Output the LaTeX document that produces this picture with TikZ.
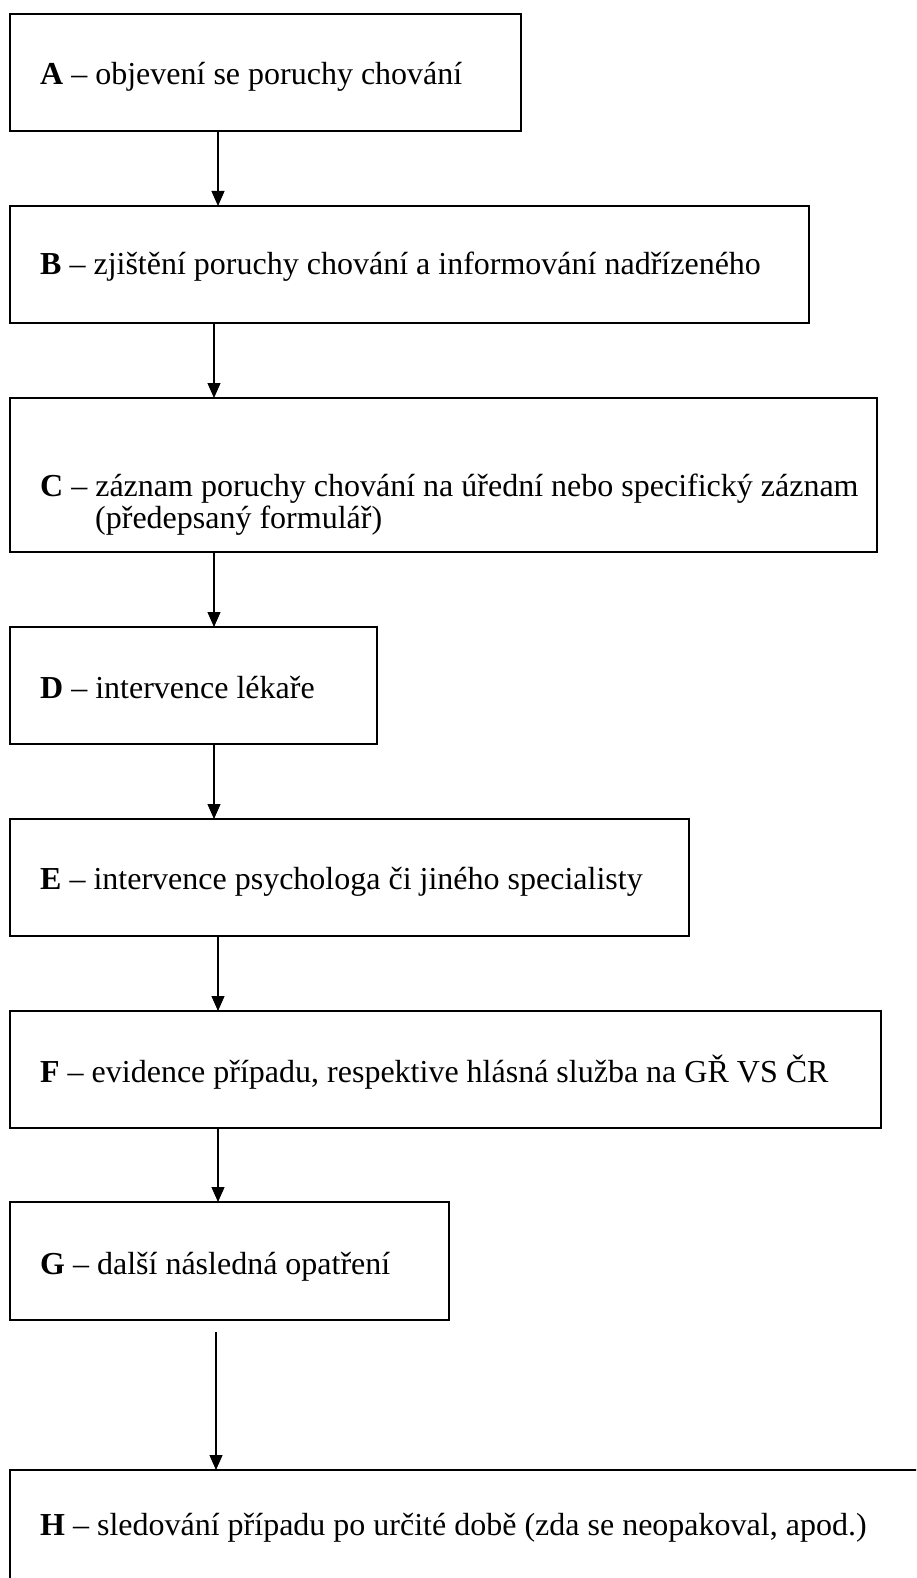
\documentclass[tikz,border=0pt]{standalone}
\usepackage{fontspec}
\setmainfont{Liberation Serif}
\usetikzlibrary{arrows.meta}
\begin{document}
\begin{tikzpicture}[x=1pt,y=-1pt,
  stepbox/.style={draw=black, line width=2pt, rectangle, anchor=north west, inner sep=0pt, outer sep=0pt},
  txt/.style={anchor=base west, inner sep=0pt, font=\fontsize{32}{38}\selectfont},
  arr/.style={draw=black, line width=1.2pt, -{Triangle[length=15pt,width=13pt]}}]
\useasboundingbox (0,0) rectangle (916,1578);
\clip (0,0) rectangle (916,1578);
% boxes
\node[stepbox, minimum width=511pt, minimum height=117pt] (A) at (10,14) {};
\node[stepbox, minimum width=799pt, minimum height=117pt] (B) at (10,206) {};
\node[stepbox, minimum width=867pt, minimum height=154pt] (C) at (10,398) {};
\node[stepbox, minimum width=367pt, minimum height=117pt] (D) at (10,627) {};
\node[stepbox, minimum width=679pt, minimum height=117pt] (E) at (10,819) {};
\node[stepbox, minimum width=871pt, minimum height=117pt] (F) at (10,1011) {};
\node[stepbox, minimum width=439pt, minimum height=118pt] (G) at (10,1202) {};
\node[stepbox, minimum width=940pt, minimum height=160pt] (H) at (10,1470) {};
% texts
\node[txt] (tA) at (40,85) {\textbf{A} – objevení se poruchy chování};
\node[txt] (tB) at (40,275) {\textbf{B} – zjištění poruchy chování a informování nadřízeného};
\node[txt] (tC1) at (40,496) {\textbf{C} – záznam poruchy chování na úřední nebo specifický záznam};
\node[txt] (tC2) at (95,528) {(předepsaný formulář)};
\node[txt] (tD) at (40,698) {\textbf{D} – intervence lékaře};
\node[txt] (tE) at (40,889) {\textbf{E} – intervence psychologa či jiného specialisty};
\node[txt] (tF) at (40,1082) {\textbf{F} – evidence případu, respektive hlásná služba na GŘ VS ČR};
\node[txt] (tG) at (40,1274) {\textbf{G} – další následná opatření};
\node[txt] (tH) at (40,1535) {\textbf{H} – sledování případu po určité době (zda se neopakoval, apod.)};
% connectors
\coordinate (xab) at (218,0);
\coordinate (xbc) at (214,0);
\coordinate (xcd) at (214,0);
\coordinate (xde) at (214,0);
\coordinate (xef) at (218,0);
\coordinate (xfg) at (218,0);
\coordinate (gh) at (216,1332);
\draw[arr] (xab |- A.south) -- (xab |- B.north);
\draw[arr] (xbc |- B.south) -- (xbc |- C.north);
\draw[arr] (xcd |- C.south) -- (xcd |- D.north);
\draw[arr] (xde |- D.south) -- (xde |- E.north);
\draw[arr] (xef |- E.south) -- (xef |- F.north);
\draw[arr] (xfg |- F.south) -- (xfg |- G.north);
\draw[arr] (gh) -- (gh |- H.north);
\end{tikzpicture}
\end{document}
